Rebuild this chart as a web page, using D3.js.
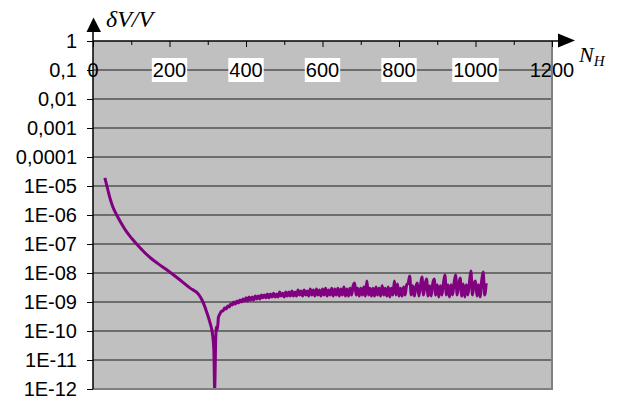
<!DOCTYPE html>
<html>
<head>
<meta charset="utf-8">
<script src="https://cdn.jsdelivr.net/npm/d3@7"></script>
<style>
  html, body { margin: 0; padding: 0; background: #fff; }
  svg { display: block; }
</style>
</head>
<body>
<svg id="chart" width="623" height="401"></svg>
<script>
// axis ticks and labels
const xTickLabels = [0, 200, 400, 600, 800, 1000, 1200]
const xMinorTicks = [100, 300, 500, 700, 900, 1100]
const yTicks = [1, 1e-1, 1e-2, 1e-3, 1e-4, 1e-5, 1e-6, 1e-7, 1e-8, 1e-9, 1e-10, 1e-11, 1e-12]
const yTickLabels = ['1', '0,1', '0,01', '0,001', '0,0001', '1E-05', '1E-06', '1E-07',
  '1E-08', '1E-09', '1E-10', '1E-11', '1E-12']

// smooth part: falling branch, the dip, start of the rising branch
const branchN = [31, 38, 44, 52, 62, 75, 88, 101, 114, 133, 153, 170, 190, 221, 254, 275,
  285, 298, 306, 312, 316, 318, 321, 323, 325, 328]
const branchV = [1.9e-5, 8.2e-6, 4.0e-6, 1.9e-6, 1.0e-6, 4.9e-7, 2.6e-7, 1.58e-7, 1.0e-7,
  5.4e-8, 3.1e-8, 2.1e-8, 1.37e-8, 6.7e-9, 3.0e-9, 1.9e-9, 1.17e-9, 4.2e-10, 1.9e-10,
  8.5e-11, 2.2e-11, 1e-12, 6.2e-11, 1.37e-10, 1.08e-10, 3.0e-10]

// noisy part (rounding error)
const noiseN = [
  332, 336, 340, 344, 348, 352, 356, 360, 364, 368,
  372, 376, 380, 384, 388, 392, 396, 400, 404, 408,
  412, 416, 420, 424, 428, 432, 436, 440, 444, 448,
  452, 456, 460, 464, 468, 472, 476, 480, 484, 488,
  492, 496, 500, 504, 508, 512, 516, 520, 524, 528,
  532, 536, 540, 544, 548, 552, 556, 560, 564, 568,
  572, 576, 580, 584, 588, 592, 596, 600, 604, 608,
  612, 616, 620, 624, 628, 632, 636, 640, 644, 648,
  652, 656, 660, 664, 668, 672, 676, 680, 684, 688,
  692, 696, 700, 704, 708, 712, 716, 720, 724, 728,
  732, 736, 740, 744, 748, 752, 756, 760, 764, 768,
  772, 776, 780, 784, 788, 792, 796, 800, 804, 808,
  812, 816, 820, 824, 828, 832, 836, 840, 844, 848,
  852, 856, 860, 864, 868, 872, 876, 880, 884, 888,
  892, 896, 900, 904, 908, 912, 916, 920, 924, 928,
  932, 936, 940, 944, 948, 952, 956, 960, 964, 968,
  972, 976, 980, 984, 988, 992, 996, 1000, 1004, 1008,
  1012, 1016, 1020, 1024, 1028]
const noiseV = [
  3.9e-10, 4.9e-10, 4.9e-10, 6.2e-10, 5.7e-10, 7.3e-10, 6.7e-10, 8.5e-10, 7.9e-10, 1.0e-9,
  8.5e-10, 1.08e-9, 9.2e-10, 1.17e-9, 1.0e-9, 1.27e-9, 1.08e-9, 1.4e-9, 1.08e-9, 1.5e-9,
  1.17e-9, 1.5e-9, 1.17e-9, 1.6e-9, 1.27e-9, 1.6e-9, 1.27e-9, 1.74e-9, 1.4e-9, 1.74e-9,
  1.4e-9, 1.9e-9, 1.4e-9, 1.9e-9, 1.5e-9, 2.0e-9, 1.5e-9, 1.9e-9, 1.5e-9, 2.2e-9,
  1.6e-9, 2.0e-9, 1.5e-9, 2.2e-9, 1.6e-9, 2.2e-9, 1.6e-9, 2.4e-9, 1.6e-9, 2.2e-9,
  1.6e-9, 2.6e-9, 1.74e-9, 2.4e-9, 1.6e-9, 2.6e-9, 1.74e-9, 2.4e-9, 1.6e-9, 2.8e-9,
  1.74e-9, 2.6e-9, 1.6e-9, 2.8e-9, 1.74e-9, 2.6e-9, 1.6e-9, 2.8e-9, 1.74e-9, 3.0e-9,
  1.6e-9, 2.6e-9, 1.74e-9, 3.0e-9, 1.6e-9, 2.8e-9, 1.74e-9, 3.0e-9, 1.6e-9, 2.8e-9,
  1.74e-9, 3.3e-9, 1.6e-9, 2.8e-9, 1.6e-9, 3.0e-9, 1.74e-9, 3.6e-9, 4.5e-9, 1.74e-9,
  3.0e-9, 1.6e-9, 3.0e-9, 1.74e-9, 3.3e-9, 1.6e-9, 5.3e-9, 1.74e-9, 3.0e-9, 1.6e-9,
  3.0e-9, 1.6e-9, 3.3e-9, 1.74e-9, 3.0e-9, 1.6e-9, 3.6e-9, 1.74e-9, 3.0e-9, 1.6e-9,
  3.3e-9, 1.5e-9, 3.0e-9, 1.74e-9, 5.3e-9, 1.74e-9, 4.2e-9, 1.6e-9, 3.0e-9, 1.6e-9,
  3.3e-9, 1.74e-9, 3.9e-9, 4.5e-9, 7.9e-9, 1.74e-9, 3.6e-9, 1.6e-9, 3.3e-9, 4.5e-9,
  1.6e-9, 3.6e-9, 7.3e-9, 1.74e-9, 3.9e-9, 6.2e-9, 1.6e-9, 3.6e-9, 1.6e-9, 4.2e-9,
  6.2e-9, 1.74e-9, 3.9e-9, 1.5e-9, 3.6e-9, 1.74e-9, 4.2e-9, 8.5e-9, 1.74e-9, 3.9e-9,
  1.5e-9, 3.9e-9, 1.74e-9, 4.5e-9, 8.5e-9, 1.74e-9, 3.9e-9, 6.7e-9, 1.6e-9, 4.2e-9,
  1.5e-9, 3.9e-9, 1.74e-9, 4.5e-9, 1.17e-8, 1.74e-9, 4.2e-9, 5.3e-9, 1.6e-9, 3.9e-9,
  1.5e-9, 5.3e-9, 1.08e-8, 1.74e-9, 4.5e-9]

const plot = { left: 93, right: 552, top: 41, bottom: 389 }
const sans = '"Liberation Sans", Arial, sans-serif'
const serif = '"Liberation Serif", "Times New Roman", serif'

const svg = d3.select('#chart')

const x = d3.scaleLinear().domain([0, 1200]).range([plot.left, plot.right])
const y = d3.scaleLog().domain([1, 1e-12]).range([plot.top, plot.bottom])

// 背景
svg.append('rect')
  .attr('x', plot.left).attr('y', plot.top)
  .attr('width', plot.right - plot.left).attr('height', plot.bottom - plot.top)
  .attr('fill', '#c0c0c0')

// horizontal gridlines
svg.append('g')
  .selectAll('line')
  .data(yTicks.slice(1, -1))
  .enter()
  .append('line')
  .attr('x1', plot.left).attr('x2', plot.right)
  .attr('y1', d => y(d)).attr('y2', d => y(d))
  .attr('stroke', '#1a1a1a').attr('stroke-width', 1)

// x labels sit on the 0,1 gridline, inner ones on white boxes
const xLab = svg.append('g')
  .selectAll('g')
  .data(xTickLabels)
  .enter()
  .append('g')
  .attr('transform', d => `translate(${x(d)},${y(0.1)})`)

xLab.append('text')
  .attr('text-anchor', 'middle')
  .attr('dy', '0.35em')
  .attr('font-family', sans)
  .attr('font-size', 20)
  .attr('fill', '#000')
  .text(d => d)

xLab.each(function(d, i) {
  if (i === 0 || i === xTickLabels.length - 1) return
  const g = d3.select(this)
  const b = g.select('text').node().getBBox()
  g.insert('rect', 'text')
    .attr('x', b.x - 1).attr('y', -12)
    .attr('width', b.width + 2).attr('height', 24)
    .attr('fill', '#fff')
})

// data line
svg.append('defs').append('clipPath').attr('id', 'plotClip')
  .append('rect')
  .attr('x', plot.left).attr('y', plot.top)
  .attr('width', plot.right - plot.left).attr('height', plot.bottom - plot.top)

const points = branchN.map((n, i) => [n, branchV[i]])
  .concat(noiseN.map((n, i) => [n, noiseV[i]]))

const line = d3.line()
  .x(d => x(d[0]))
  .y(d => y(d[1]))
  .curve(d3.curveMonotoneX)

svg.append('path')
  .datum(points)
  .attr('clip-path', 'url(#plotClip)')
  .attr('d', line)
  .attr('fill', 'none')
  .attr('stroke', '#800080')
  .attr('stroke-width', 3)
  .attr('stroke-linejoin', 'round')

// right and bottom frame
svg.append('path')
  .attr('d', `M${plot.right},${plot.top} V${plot.bottom} H${plot.left}`)
  .attr('fill', 'none')
  .attr('stroke', '#808080')
  .attr('stroke-width', 2)

// y axis
const yAxis = svg.append('g')
  .attr('transform', `translate(${plot.left},0)`)
  .call(d3.axisLeft(y)
    .tickValues(yTicks)
    .tickFormat((d, i) => yTickLabels[i])
    .tickSize(6)
    .tickPadding(10))
yAxis.select('.domain').remove()
yAxis.selectAll('text')
  .attr('font-family', sans)
  .attr('font-size', 20)
  .attr('fill', '#000')

// x axis ticks along the top edge, pointing down
const xAxis = svg.append('g')
  .attr('transform', `translate(0,${plot.top})`)
  .call(d3.axisBottom(x).tickValues(xTickLabels).tickSize(6).tickFormat(''))
xAxis.select('.domain').remove()
const xMinor = svg.append('g')
  .attr('transform', `translate(0,${plot.top})`)
  .call(d3.axisBottom(x).tickValues(xMinorTicks).tickSize(4).tickFormat(''))
xMinor.select('.domain').remove()

// axis lines with arrows
svg.append('line')
  .attr('x1', plot.left).attr('x2', 560)
  .attr('y1', plot.top).attr('y2', plot.top)
  .attr('stroke', '#000').attr('stroke-width', 1.5)
svg.append('line')
  .attr('x1', plot.left).attr('x2', plot.left)
  .attr('y1', plot.bottom).attr('y2', 30)
  .attr('stroke', '#000').attr('stroke-width', 1.5)

svg.append('path')
  .attr('d', 'M558,33.5 L575,40.5 L558,47.5 Z')
  .attr('fill', '#000')
svg.append('path')
  .attr('d', 'M86.5,32 L93.5,17.5 L101,32 Z')
  .attr('fill', '#000')

// axis titles
svg.append('text')
  .attr('x', 106).attr('y', 27)
  .attr('font-family', serif)
  .attr('font-style', 'italic')
  .attr('font-size', 24)
  .attr('fill', '#000')
  .text('δV/V')

const nh = svg.append('text')
  .attr('x', 579).attr('y', 62)
  .attr('font-family', serif)
  .attr('font-style', 'italic')
  .attr('font-size', 22)
  .attr('fill', '#000')
nh.append('tspan').text('N')
nh.append('tspan').attr('font-size', 15).attr('dy', 4).text('H')
</script>
</body>
</html>
